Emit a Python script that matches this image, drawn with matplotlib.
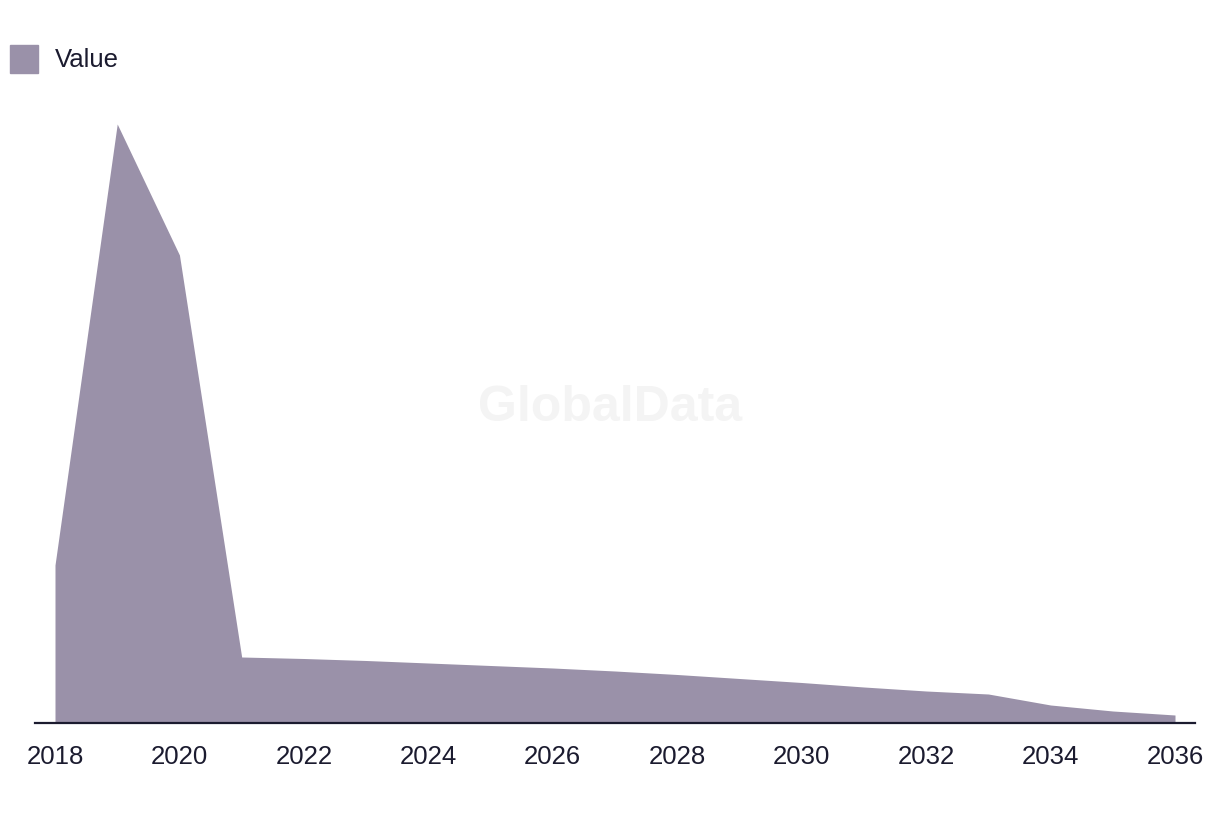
import matplotlib
matplotlib.use("Agg")
import matplotlib.pyplot as plt
from matplotlib.patches import Rectangle

years = list(range(2018, 2037))
values = [158, 599, 468, 66, 64.5, 62.5, 60, 57.5, 55, 52, 48.5, 44.5, 40.5, 36, 32, 29, 18, 12, 8]
tick_years = list(range(2018, 2037, 2))
series_name = "Value"

fill_color = "#9a91a9"
text_color = "#1b1b2f"

plt.rcParams['font.family'] = ['Liberation Sans', 'DejaVu Sans']

W, H = 1220, 814
fig = plt.figure(figsize=(W / 100, H / 100), dpi=100)
left, right = 35 / W, 1195 / W
bottom, top = 1 - 723 / H, 1 - 74 / H
ax = fig.add_axes([left, bottom, right - left, top - bottom])

ax.fill_between(years, values, 0, color=fill_color, linewidth=0)
ax.set_xlim(2018 - 20 / 62.22, 2036 + 20 / 62.22)
ax.set_ylim(0, 649)

for s in ["top", "right", "left"]:
    ax.spines[s].set_visible(False)
ax.spines["bottom"].set_color(text_color)
ax.spines["bottom"].set_linewidth(1.6)
ax.set_yticks([])
ax.set_xticks(tick_years)
ax.set_xticklabels([str(y) for y in tick_years], fontsize=18.5, color=text_color)
ax.tick_params(axis="x", length=0, pad=16)

# watermark
fig.text(610 / W, 1 - 408 / H, "GlobalData", fontsize=36, fontweight="bold",
         color="#f4f4f4", ha="center", va="center", zorder=0)

# legend
fig.patches.append(Rectangle((10 / W, 1 - 73 / H), 28 / W, 28 / H,
                             transform=fig.transFigure, color=fill_color))
fig.text(55 / W, 1 - 60 / H, series_name, fontsize=18.5, color=text_color,
         ha="left", va="center")

fig.savefig("out.png", dpi=100)
